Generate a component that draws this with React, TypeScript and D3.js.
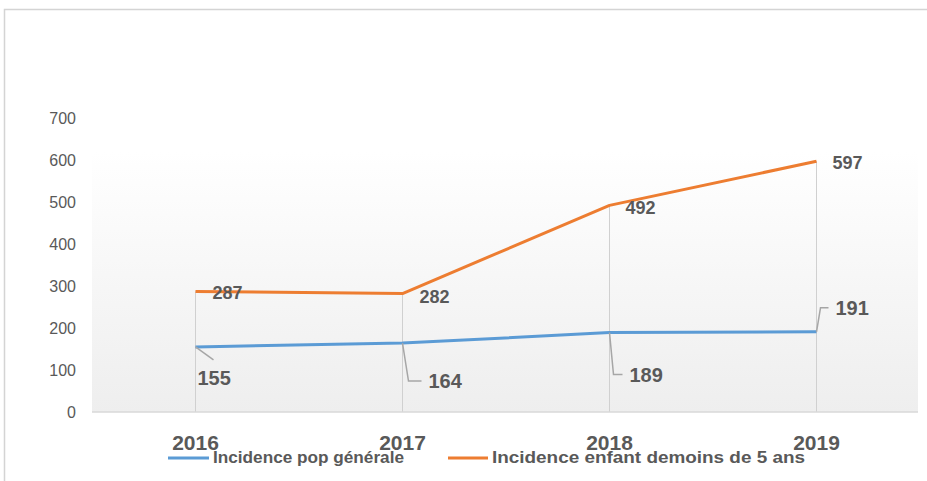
import * as d3 from "d3";

// données
const years = ["2016", "2017", "2018", "2019"];
const popGenerale = [155, 164, 189, 191];
const enfantMoins5 = [287, 282, 492, 597];
const yTicks = [0, 100, 200, 300, 400, 500, 600, 700];
const seriesNames = ["Incidence pop générale", "Incidence enfant demoins de 5 ans"];

// décalages des étiquettes (style Excel, repris à l'oeil)
const blueLabelOffsets = [
  { dx: 2, dy: 38, leader: [[0, 0], [18, 13]] },
  { dx: 26, dy: 45, leader: [[0, 0], [6, 38], [19, 38]] },
  { dx: 20, dy: 49, leader: [[0, 0], [4, 42], [13, 42]] },
  { dx: 19, dy: -17, leader: [[0, 0], [4, -24], [12, -24]] },
];
const orangeLabelOffsets = [
  { dx: 17, dy: 8 },
  { dx: 17, dy: 9 },
  { dx: 16, dy: 9 },
  { dx: 16, dy: 8 },
];

const W = 927;
const H = 481;
const COL_BLUE = "#5B9BD5";
const COL_ORANGE = "#ED7D31";
const TXT = "#595959";
const FONT = "'Liberation Sans', Arial, sans-serif";

export default function App() {
  const plotLeft = 92;
  const plotRight = 920;
  const plotTop = 118;
  const plotBottom = 412;

  const x = d3.scaleBand<string>().domain(years).range([plotLeft, plotRight]);
  const y = d3.scaleLinear().domain([0, 700]).range([plotBottom, plotTop]);
  const cx = (yr: string) => (x(yr) ?? 0) + x.bandwidth() / 2;

  const line = d3
    .line<number>()
    .x((_, i) => cx(years[i]))
    .y((d) => y(d));

  return (
    <svg
      width={W}
      height={H}
      style={{ position: "absolute", left: 0, top: 0, background: "#fff" }}
      fontFamily={FONT}
    >
      <defs>
        <linearGradient id="bg" x1="0" y1="0" x2="0" y2="1">
          <stop offset="0" stopColor="#ffffff" />
          <stop offset="1" stopColor="#eeeeee" />
        </linearGradient>
      </defs>

      {/* cadre */}
      <path d={`M4.5,${H} V9.5 H${W}`} fill="none" stroke="#d4d4d4" strokeWidth={1.5} />

      {/* fond de la zone de tracé */}
      <rect
        x={plotLeft}
        y={y(600) - 8}
        width={plotRight - plotLeft - 2}
        height={plotBottom - y(600) + 8}
        fill="url(#bg)"
      />

      {/* axe Y */}
      {yTicks.map((t) => (
        <text key={t} x={76} y={y(t) + 5.5} textAnchor="end" fontSize={16} fill={TXT}>
          {t}
        </text>
      ))}

      {/* lignes de projection */}
      {years.map((yr, i) => (
        <line
          key={yr}
          x1={cx(yr)}
          x2={cx(yr)}
          y1={y(Math.max(popGenerale[i], enfantMoins5[i]))}
          y2={plotBottom}
          stroke="#d0d0d0"
          strokeWidth={1}
        />
      ))}

      {/* ligne de base */}
      <line x1={plotLeft} x2={plotRight - 2} y1={plotBottom} y2={plotBottom} stroke="#d9d9d9" strokeWidth={1.5} />

      {/* séries */}
      <path d={line(popGenerale) ?? ""} fill="none" stroke={COL_BLUE} strokeWidth={3} strokeLinejoin="round" />
      <path d={line(enfantMoins5) ?? ""} fill="none" stroke={COL_ORANGE} strokeWidth={3} strokeLinejoin="round" />

      {/* étiquettes orange */}
      {enfantMoins5.map((v, i) => (
        <text
          key={`o${i}`}
          x={cx(years[i]) + orangeLabelOffsets[i].dx}
          y={y(v) + orangeLabelOffsets[i].dy}
          fontSize={18}
          fontWeight="bold"
          fill={TXT}
        >
          {v}
        </text>
      ))}

      {/* étiquettes bleues avec lignes de rappel */}
      {popGenerale.map((v, i) => {
        const px = cx(years[i]);
        const py = y(v);
        const o = blueLabelOffsets[i];
        const d = o.leader.map((p, j) => `${j ? "L" : "M"}${px + p[0]},${py + p[1]}`).join("");
        return (
          <g key={`b${i}`}>
            <path d={d} fill="none" stroke="#a6a6a6" strokeWidth={1.5} />
            <text x={px + o.dx} y={py + o.dy} fontSize={20} fontWeight="bold" fill={TXT}>
              {v}
            </text>
          </g>
        );
      })}

      {/* axe X */}
      {years.map((yr) => (
        <text key={yr} x={cx(yr)} y={450} textAnchor="middle" fontSize={21} fontWeight="bold" fill={TXT}>
          {yr}
        </text>
      ))}

      {/* légende */}
      <line x1={168} x2={209} y1={458} y2={458} stroke={COL_BLUE} strokeWidth={3} />
      <text x={213} y={463} fontSize={16} fontWeight="bold" fill={TXT} textLength={191} lengthAdjust="spacingAndGlyphs">
        {seriesNames[0]}
      </text>
      <line x1={448} x2={488} y1={458} y2={458} stroke={COL_ORANGE} strokeWidth={3} />
      <text x={492} y={463} fontSize={16} fontWeight="bold" fill={TXT} textLength={313} lengthAdjust="spacingAndGlyphs">
        {seriesNames[1]}
      </text>
    </svg>
  );
}
